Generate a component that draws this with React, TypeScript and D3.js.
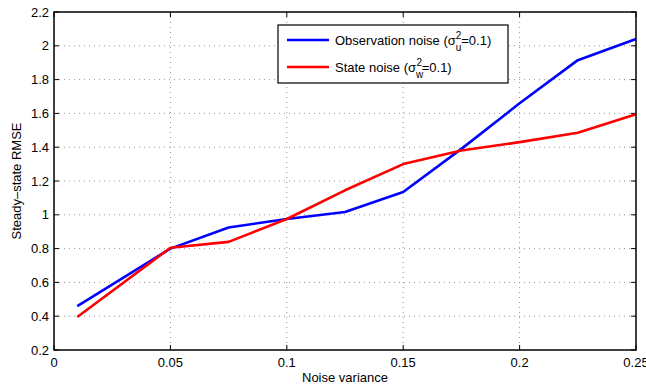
import React from "react";
import * as d3 from "d3";

const xValues = [0.01, 0.05, 0.075, 0.1, 0.125, 0.15, 0.175, 0.2, 0.225, 0.25];
const observationNoise = [0.46, 0.8, 0.925, 0.975, 1.017, 1.135, 1.39, 1.66, 1.915, 2.04];
const stateNoise = [0.395, 0.805, 0.84, 0.975, 1.145, 1.3, 1.38, 1.43, 1.485, 1.595];
const xTicks = [0, 0.05, 0.1, 0.15, 0.2, 0.25];
const yTicks = [0.2, 0.4, 0.6, 0.8, 1, 1.2, 1.4, 1.6, 1.8, 2, 2.2];

const W = 646, H = 385;
const M = { left: 54, right: 636, top: 12, bottom: 350 };

export default function App() {
  const x = d3.scaleLinear().domain([0, 0.25]).range([M.left, M.right]);
  const y = d3.scaleLinear().domain([0.2, 2.2]).range([M.bottom, M.top]);
  const line = d3.line<number>().x((_, i) => x(xValues[i])).y((d) => y(d));
  const font = "'Liberation Sans', Arial, Helvetica, sans-serif";
  const fmt = (v: number) => String(+v.toFixed(2));
  const fs = 13;

  return (
    <svg width={W} height={H} style={{ position: "absolute", left: 0, top: 0, background: "#fff" }} fontFamily={font}>
      <rect x={0} y={0} width={W} height={H} fill="#fff" />
      {/* grid */}
      {xTicks.slice(1, -1).map((t) => (
        <line key={"gx" + t} x1={x(t)} x2={x(t)} y1={M.top} y2={M.bottom} stroke="#999" strokeWidth={1} strokeDasharray="1,4" />
      ))}
      {yTicks.slice(1, -1).map((t) => (
        <line key={"gy" + t} x1={M.left} x2={M.right} y1={y(t)} y2={y(t)} stroke="#999" strokeWidth={1} strokeDasharray="1,4" />
      ))}
      {/* ticks */}
      {xTicks.map((t) => (
        <g key={"tx" + t}>
          <line x1={x(t)} x2={x(t)} y1={M.bottom} y2={M.bottom - 5} stroke="#000" />
          <line x1={x(t)} x2={x(t)} y1={M.top} y2={M.top + 5} stroke="#000" />
          <text x={x(t)} y={M.bottom + 17} fontSize={fs} textAnchor="middle">{fmt(t)}</text>
        </g>
      ))}
      {yTicks.map((t) => (
        <g key={"ty" + t}>
          <line x1={M.left} x2={M.left + 5} y1={y(t)} y2={y(t)} stroke="#000" />
          <line x1={M.right} x2={M.right - 5} y1={y(t)} y2={y(t)} stroke="#000" />
          <text x={M.left - 5} y={y(t) + 4.5} fontSize={fs} textAnchor="end">{fmt(t)}</text>
        </g>
      ))}
      {/* series */}
      <path d={line(observationNoise) || ""} fill="none" stroke="#0000ff" strokeWidth={2.6} strokeLinejoin="round" />
      <path d={line(stateNoise) || ""} fill="none" stroke="#ff0000" strokeWidth={2.6} strokeLinejoin="round" />
      {/* frame */}
      <rect x={M.left} y={M.top} width={M.right - M.left} height={M.bottom - M.top} fill="none" stroke="#000" strokeWidth={1.5} />
      {/* legend */}
      <rect x={278} y={25} width={230} height={58} fill="#fff" stroke="#000" strokeWidth={1.2} />
      <line x1={287} x2={329} y1={40} y2={40} stroke="#0000ff" strokeWidth={2.6} />
      <text x={335} y={45} fontSize={fs}>
        Observation noise (σ
        <tspan fontSize={10} dy={-6}>2</tspan>
        <tspan fontSize={10} dx={-5.6} dy={12}>u</tspan>
        <tspan dy={-6}>=0.1)</tspan>
      </text>
      <line x1={287} x2={329} y1={67} y2={67} stroke="#ff0000" strokeWidth={2.6} />
      <text x={335} y={72} fontSize={fs}>
        State noise (σ
        <tspan fontSize={10} dx={0.5} dy={-6}>2</tspan>
        <tspan fontSize={10} dx={-6.1} dy={12}>w</tspan>
        <tspan dx={-1.5} dy={-6}>=0.1)</tspan>
      </text>
      {/* axis labels */}
      <text x={(M.left + M.right) / 2} y={382} fontSize={fs} textAnchor="middle">Noise variance</text>
      <text transform={`translate(21,${(M.top + M.bottom) / 2}) rotate(-90)`} fontSize={fs} textAnchor="middle">Steady–state RMSE</text>
    </svg>
  );
}
